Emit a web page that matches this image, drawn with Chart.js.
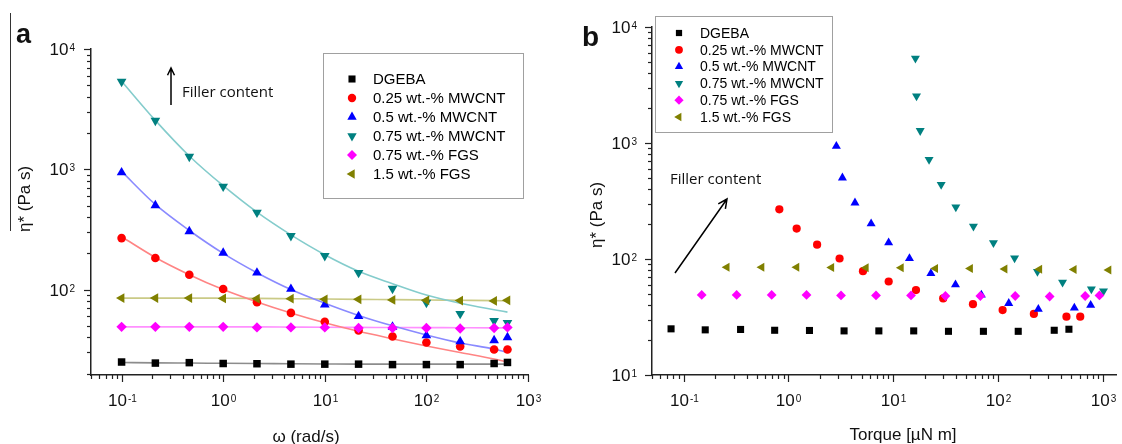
<!DOCTYPE html>
<html>
<head>
<meta charset="utf-8">
<script src="https://cdn.jsdelivr.net/npm/chart.js@4.4.1/dist/chart.umd.min.js"></script>
<style>
  html, body { margin: 0; padding: 0; background: #fff; }
  #wrap { position: relative; width: 1122px; height: 444px; overflow: hidden; background: #fff; }
  #chartA { position: absolute; left: 0; top: 0; }
  #chartB { position: absolute; left: 560px; top: 0; }
</style>
</head>
<body>
<div id="wrap">
  <canvas id="chartA" width="560" height="444"></canvas>
  <canvas id="chartB" width="562" height="444"></canvas>
</div>
<script>
// Angular frequency sweep (rad/s)
const omega = [0.1, 0.215, 0.464, 1, 2.15, 4.64, 10, 21.5, 46.4, 100, 215, 464, 628];

// Complex viscosity |eta*| (Pa s) per sample
const etaDGEBA   = [25, 24.5, 24.7, 24.3, 24.2, 24, 24, 24, 23.8, 23.8, 23.8, 24.3, 24.8];
const etaCNT025  = [268, 183, 133, 101, 78.5, 64, 54, 45.7, 40.8, 36.3, 33.6, 31.8, 31.8];
const etaCNT05   = [940, 501, 305, 202, 138, 101, 75, 60, 49, 41.5, 37, 37.8, 40];
const etaCNT075  = [5360, 2540, 1276, 720, 438, 280, 191, 138, 102, 78, 63, 55, 53];
const etaFGS075  = [49, 49, 49, 49, 48.5, 48.5, 48.5, 48, 48, 48, 47.5, 48, 48.5];
const etaFGS15   = [85, 85, 85, 84.5, 84, 84, 83, 83, 82, 81.5, 81, 80.5, 81.5];

// Fitted flow curves (Pa s) at the same frequencies
const fitDGEBA   = [24.8, 24.6, 24.5, 24.4, 24.3, 24.2, 24.1, 24, 24, 24, 24, 24, 24];
const fitCNT025  = [275, 185, 133, 100, 79, 64, 53, 45, 39, 34, 30, 26.5, 25];
const fitCNT05   = [960, 510, 310, 200, 138, 100, 77, 61, 50, 42, 36, 32, 30];
const fitCNT075  = [5400, 2550, 1290, 730, 440, 285, 195, 142, 112, 90, 77, 68, 65];
const fitFGS075  = [49, 49, 49, 49, 49, 48.8, 48.6, 48.5, 48.4, 48.3, 48.2, 48.1, 48];
const fitFGS15   = [85, 85, 85, 84.8, 84.5, 84, 83.5, 83, 82.5, 82, 81.5, 81, 80.5];

// Torque (uN m) recorded at each point of the sweep
const torqueDGEBA  = [0.076, 0.161, 0.35, 0.74, 1.59, 3.4, 7.3, 15.7, 33.7, 72.6, 156, 344, 475];
const torqueCNT025 = [0.82, 1.2, 1.88, 3.08, 5.15, 9.06, 16.5, 30, 57.7, 110.7, 220, 450, 609];
const torqueCNT05  = [2.87, 3.28, 4.32, 6.16, 9.05, 14.3, 22.9, 39.3, 69.4, 126.6, 242.6, 535, 766];
const torqueCNT075 = [16.3, 16.7, 18.1, 22.0, 28.7, 39.6, 58.3, 90.5, 144, 238, 413, 778, 1015];
const torqueFGS075 = [0.149, 0.321, 0.693, 1.49, 3.18, 6.86, 14.8, 31.5, 67.9, 146, 311, 679, 929];
const torqueFGS15  = [0.259, 0.557, 1.2, 2.58, 5.51, 11.9, 25.3, 54.4, 116, 249, 531, 1139, 1561];

const seriesNames = ['DGEBA', '0.25 wt.-% MWCNT', '0.5 wt.-% MWCNT', '0.75 wt.-% MWCNT', '0.75 wt.-% FGS', '1.5 wt.-% FGS'];

// Styling
const markerColors = ['#000000', '#ff0000', '#0000ff', '#008080', '#ff00ff', '#808000'];
const fitColors    = ['#8c8c8c', '#ff8484', '#8a8aff', '#84cccc', '#ff90ff', '#caca86'];
const markerStyles = ['rect', 'circle', 'triangle', 'triangle', 'rectRot', 'triangle'];
const markerRot    = [0, 0, 0, 180, 0, 270];
const markerSizeA  = [5.3, 4.3, 5.6, 5.6, 5.2, 5.6];
const markerSizeB  = [5.0, 4.1, 5.2, 5.2, 4.9, 5.2];
const drawOrder    = [6, 5, 4, 3, 2, 1];

const FONT = '"Liberation Sans", Arial, Helvetica, sans-serif';
const NOTE_FONT = '"Open Sans", "DejaVu Sans", sans-serif';

function pairs(xs, ys) { return xs.map((x, i) => ({ x: x, y: ys[i] })); }

function markerPath(ctx, style, rotDeg, r, x, y) {
  const rad = rotDeg * Math.PI / 180;
  ctx.beginPath();
  if (style === 'rect') {
    const s = Math.SQRT1_2 * r;
    ctx.rect(x - s, y - s, 2 * s, 2 * s);
  } else if (style === 'circle') {
    ctx.arc(x, y, r, 0, Math.PI * 2);
  } else if (style === 'rectRot') {
    ctx.moveTo(x - r, y); ctx.lineTo(x, y - r); ctx.lineTo(x + r, y); ctx.lineTo(x, y + r);
    ctx.closePath();
  } else {
    let a = rad;
    ctx.moveTo(x + Math.sin(a) * r, y - Math.cos(a) * r);
    a += 2 * Math.PI / 3;
    ctx.lineTo(x + Math.sin(a) * r, y - Math.cos(a) * r);
    a += 2 * Math.PI / 3;
    ctx.lineTo(x + Math.sin(a) * r, y - Math.cos(a) * r);
    ctx.closePath();
  }
}

function logTicks(min, max) {
  const out = [];
  for (let e = Math.floor(Math.log10(min)); e <= Math.ceil(Math.log10(max)); e++) {
    for (let m = 1; m <= 9; m++) {
      const v = m * Math.pow(10, e);
      if (v >= min * 0.999 && v <= max * 1.001) out.push({ v: v, major: m === 1, e: e });
    }
  }
  return out;
}

function powerLabel(ctx, e, x, y, align) {
  ctx.font = '17px ' + FONT;
  const wb = ctx.measureText('10').width;
  ctx.font = '10px ' + FONT;
  const es = String(e);
  const we = ctx.measureText(es).width;
  const total = wb + 1 + we;
  const x0 = align === 'right' ? x - total : x - total / 2;
  ctx.fillStyle = '#111';
  ctx.textAlign = 'left';
  ctx.font = '17px ' + FONT;
  ctx.textBaseline = 'middle';
  ctx.fillText('10', x0, y);
  ctx.font = '10px ' + FONT;
  ctx.textBaseline = 'alphabetic';
  ctx.fillText(es, x0 + wb + 1, y + 0.5);
}

// Log-axis tick marks and power-of-ten labels, taken from the chart's own scales
function drawAxisTicks(chart, cfg) {
  const { ctx, chartArea: a } = chart;
  const xs = chart.scales.x, ys = chart.scales.y;
  ctx.save();
  ctx.strokeStyle = '#222';
  ctx.lineWidth = 1.2;
  logTicks(ys.min, ys.max).forEach(t => {
    const py = Math.round(ys.getPixelForValue(t.v)) + 0.5;
    ctx.beginPath();
    ctx.moveTo(a.left, py);
    ctx.lineTo(a.left - (t.major ? 7 : 4), py);
    ctx.stroke();
    if (t.major) powerLabel(ctx, t.e, a.left - cfg.yLabelGap, py + 1, 'right');
  });
  logTicks(xs.min, xs.max).forEach(t => {
    const px = Math.round(xs.getPixelForValue(t.v)) + 0.5;
    ctx.beginPath();
    ctx.moveTo(px, a.bottom);
    ctx.lineTo(px, a.bottom + (t.major ? 7 : 4));
    ctx.stroke();
    if (t.major) powerLabel(ctx, t.e, px, a.bottom + 26, 'center');
  });
  ctx.restore();
}

function drawLegend(chart, lg) {
  const ctx = chart.ctx;
  ctx.save();
  ctx.fillStyle = '#fff';
  ctx.fillRect(lg.x, lg.y, lg.w, lg.h);
  ctx.strokeStyle = '#a0a0a0';
  ctx.lineWidth = 1;
  ctx.strokeRect(lg.x + 0.5, lg.y + 0.5, lg.w, lg.h);
  ctx.font = lg.font;
  ctx.textAlign = 'left';
  ctx.textBaseline = 'middle';
  seriesNames.forEach((name, i) => {
    const yy = lg.y + lg.first + i * lg.step;
    ctx.fillStyle = markerColors[i];
    markerPath(ctx, markerStyles[i], markerRot[i], lg.sizes[i], lg.x + lg.mx, yy);
    ctx.fill();
    ctx.fillStyle = '#000';
    ctx.fillText(name, lg.x + lg.tx, yy + 1);
  });
  ctx.restore();
}

function drawArrow(ctx, x1, y1, x2, y2, head) {
  const ang = Math.atan2(y2 - y1, x2 - x1);
  ctx.beginPath();
  ctx.moveTo(x1, y1);
  ctx.lineTo(x2, y2);
  ctx.moveTo(x2 - head * Math.cos(ang - 0.45), y2 - head * Math.sin(ang - 0.45));
  ctx.lineTo(x2, y2);
  ctx.lineTo(x2 - head * Math.cos(ang + 0.45), y2 - head * Math.sin(ang + 0.45));
  ctx.stroke();
}

function drawText(ctx, text, x, y, font, align, rot) {
  ctx.save();
  ctx.translate(x, y);
  if (rot) ctx.rotate(rot);
  ctx.font = font;
  ctx.fillStyle = '#111';
  ctx.textAlign = align;
  ctx.textBaseline = 'middle';
  ctx.fillText(text, 0, 0);
  ctx.restore();
}

const decorA = {
  id: 'decorA',
  afterDraw(chart) {
    const ctx = chart.ctx;
    drawAxisTicks(chart, { yLabelGap: 16 });
    drawLegend(chart, {
      x: 323, y: 53, w: 200, h: 145, first: 26, step: 19, mx: 29, tx: 50,
      font: '15px ' + FONT, sizes: [5, 4.2, 5.4, 5.4, 5, 5.4]
    });
    ctx.save();
    ctx.strokeStyle = '#000';
    ctx.lineWidth = 1.5;
    drawArrow(ctx, 171, 105, 171, 68, 8);
    ctx.lineWidth = 1;
    ctx.strokeStyle = '#333';
    ctx.beginPath(); ctx.moveTo(10.5, 13); ctx.lineTo(10.5, 231); ctx.stroke();
    ctx.restore();
    drawText(ctx, 'Filler content', 182, 93, '15px ' + NOTE_FONT, 'left', 0);
    drawText(ctx, 'a', 16, 36, 'bold 27px ' + FONT, 'left', 0);
    drawText(ctx, 'ω (rad/s)', 306, 437, '17px ' + FONT, 'center', 0);
    drawText(ctx, 'η* (Pa s)', 25, 199, '17px ' + FONT, 'center', -Math.PI / 2);
  }
};

const decorB = {
  id: 'decorB',
  afterDraw(chart) {
    const ctx = chart.ctx;
    drawAxisTicks(chart, { yLabelGap: 15 });
    drawLegend(chart, {
      x: 95, y: 16, w: 177, h: 116, first: 17, step: 16.8, mx: 24, tx: 45,
      font: '14px ' + FONT, sizes: [4.4, 3.9, 4.8, 4.8, 4.6, 4.8]
    });
    ctx.save();
    ctx.strokeStyle = '#000';
    ctx.lineWidth = 1.5;
    drawArrow(ctx, 115, 273, 167, 199, 10);
    ctx.restore();
    drawText(ctx, 'Filler content', 110, 180, '15px ' + NOTE_FONT, 'left', 0);
    drawText(ctx, 'b', 22, 38, 'bold 28px ' + FONT, 'left', 0);
    drawText(ctx, 'Torque [µN m]', 343, 435, '17px ' + FONT, 'center', 0);
    drawText(ctx, 'η* (Pa s)', 37, 215, '17px ' + FONT, 'center', -Math.PI / 2);
  }
};

function logAxis(min, max, pos, size) {
  return {
    type: 'logarithmic',
    position: pos,
    min: min,
    max: max,
    grid: { display: false },
    border: { display: true, color: '#222', width: 1.5 },
    ticks: { display: false },
    afterFit(s) {
      if (pos === 'bottom') s.height = size; else s.width = size;
    }
  };
}

function pointSet(i, xs, ys, sizes) {
  return {
    label: seriesNames[i],
    data: pairs(xs, ys),
    showLine: false,
    pointStyle: markerStyles[i],
    pointRotation: markerRot[i],
    pointRadius: sizes[i],
    pointBackgroundColor: markerColors[i],
    pointBorderWidth: 0,
    backgroundColor: markerColors[i],
    borderColor: markerColors[i],
    order: drawOrder[i],
    clip: false
  };
}

function fitSet(i, ys) {
  return {
    label: seriesNames[i] + ' fit',
    data: pairs(omega, ys),
    showLine: true,
    borderColor: fitColors[i],
    borderWidth: 1.6,
    pointRadius: 0,
    fill: false,
    cubicInterpolationMode: 'monotone',
    order: 20 + i
  };
}

const commonOpts = {
  responsive: false,
  animation: false,
  events: [],
  plugins: { legend: { display: false }, tooltip: { enabled: false }, title: { display: false } }
};

const etaSets = [etaDGEBA, etaCNT025, etaCNT05, etaCNT075, etaFGS075, etaFGS15];
const fitSets = [fitDGEBA, fitCNT025, fitCNT05, fitCNT075, fitFGS075, fitFGS15];
const torqueSets = [torqueDGEBA, torqueCNT025, torqueCNT05, torqueCNT075, torqueFGS075, torqueFGS15];

new Chart(document.getElementById('chartA'), {
  type: 'scatter',
  data: {
    datasets: [
      ...fitSets.map((f, i) => fitSet(i, f)),
      ...etaSets.map((e, i) => pointSet(i, omega, e, markerSizeA))
    ]
  },
  options: Object.assign({}, commonOpts, {
    layout: { padding: { left: 0, top: 49, right: 32, bottom: 0 } },
    scales: {
      x: logAxis(0.05, 1000, 'bottom', 69),
      y: logAxis(19.5, 10000, 'left', 91)
    }
  }),
  plugins: [decorA]
});

new Chart(document.getElementById('chartB'), {
  type: 'scatter',
  data: {
    datasets: etaSets.map((e, i) => pointSet(i, torqueSets[i], e, markerSizeB))
  },
  options: Object.assign({}, commonOpts, {
    layout: { padding: { left: 0, top: 27, right: 0, bottom: 0 } },
    scales: {
      x: logAxis(0.05, 1360, 'bottom', 69),
      y: logAxis(10, 10000, 'left', 92)
    }
  }),
  plugins: [decorB]
});
</script>
</body>
</html>
